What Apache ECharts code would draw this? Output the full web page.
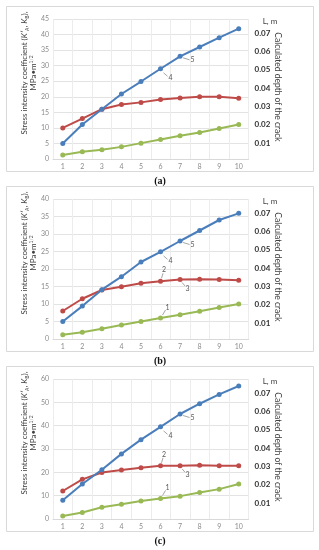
<!DOCTYPE html>
<html><head><meta charset="utf-8">
<script src="https://cdn.jsdelivr.net/npm/echarts@6/dist/echarts.min.js"></script>
<style>html,body{margin:0;padding:0;background:#fff}#c{width:319px;height:550px}</style>
</head><body><div id="c"></div>
<script>
// ---- data ----
var categories = ['1','2','3','4','5','6','7','8','9','10'];
// panel (a)
var a_blue  = [5, 11.1, 16, 20.9, 24.9, 29, 33, 36, 39, 41.9];
var a_red   = [10, 13, 16, 17.5, 18.2, 19.1, 19.6, 20, 20, 19.5];
var a_green = [1.3, 2.3, 3, 3.9, 5.1, 6.3, 7.5, 8.5, 9.8, 11.1];
// panel (b)
var b_blue  = [5, 9.4, 14.1, 17.8, 22, 24.9, 28, 31, 34, 35.9];
var b_red   = [8, 11.5, 14, 14.9, 15.9, 16.5, 17, 17.1, 17, 16.8];
var b_green = [1.2, 1.9, 2.9, 4, 5, 6, 6.9, 7.9, 9, 10];
// panel (c)
var c_blue  = [8, 15, 21.1, 27.9, 34, 39.5, 45, 49.4, 53.4, 57];
var c_red   = [12, 17, 19.9, 21, 22, 22.8, 22.8, 23, 22.8, 22.8];
var c_green = [1.3, 2.8, 5, 6.3, 7.7, 8.8, 9.8, 11.4, 12.8, 15];
// left axis ranges
var leftMax = [45, 40, 60];
var leftInterval = [5, 5, 10];
// right axis (crack depth, m)
var rightMax = 0.08, rightInterval = 0.01;
var captions = ['(a)', '(b)', '(c)'];
// curve labels: [panel, curve(0 blue,1 red,2 green), category index, text]
var curveLabels = [
  [0, 0, 6, '5'], [0, 0, 5, '4'],
  [1, 0, 6, '5'], [1, 0, 5, '4'], [1, 1, 5, '2'], [1, 1, 6, '3'], [1, 2, 5, '1'],
  [2, 0, 6, '5'], [2, 0, 5, '4'], [2, 1, 5, '2'], [2, 1, 6, '3'], [2, 2, 5, '1']
];

// ---- styles / layout ----
var panels = [[a_blue, a_red, a_green], [b_blue, b_red, b_green], [c_blue, c_red, c_green]];
var colors = ['#4A7EBB', '#BE4B48', '#98B954'];
var FONT = 'Lato, "Open Sans", sans-serif';
var offs = [0, 180, 360];
// label geometry by text: [leader start dx,dy, leader end dx,dy, text dx,dy]
var labelGeo = {
  '5': [3, 1.5, 9.5, 3.5, 12.5, 3.5],
  '4': [3, 4, 7, 7.5, 10, 8.5],
  '2': [1, -3, 2.5, -8, 3.5, -11.5],
  '3': [2, 3, 5, 6.5, 7.5, 9],
  '1': [2, -3, 5, -8, 7, -10.5]
};

var grids = [], xAxes = [], yAxes = [], series = [], graphics = [];
for (var p = 0; p < 3; p++) {
  var oy = offs[p];
  grids.push({left: 53, right: 70.5, top: oy + 19, height: 140});
  grids.push({left: 53, right: 70.5, top: oy + 14.7, height: 146.6});
  xAxes.push({
    type: 'category', gridIndex: 2 * p, data: categories, boundaryGap: true,
    axisLine: {lineStyle: {color: '#d9d9d9'}}, axisTick: {show: false},
    axisLabel: {color: '#8c8c8c', fontSize: 7, fontFamily: FONT, margin: 4, interval: 0},
    splitLine: {show: true, lineStyle: {color: '#ececec', width: 1}}
  });
  xAxes.push({type: 'category', gridIndex: 2 * p + 1, data: categories, show: false});
  yAxes.push({
    type: 'value', gridIndex: 2 * p, min: 0, max: leftMax[p], interval: leftInterval[p],
    axisLine: {show: false}, axisTick: {show: false},
    axisLabel: {color: '#8c8c8c', fontSize: 7, fontFamily: FONT, margin: 4},
    splitLine: {lineStyle: {color: '#e3e3e3', width: 1}}
  });
  yAxes.push({
    type: 'value', gridIndex: 2 * p + 1, position: 'right', min: 0, max: rightMax, interval: rightInterval,
    axisLine: {show: false}, axisTick: {show: false}, splitLine: {show: false},
    axisLabel: {color: '#333', fontSize: 8, fontFamily: FONT, fontWeight: 'bold', margin: 6,
      formatter: function (v) { return (v > 0.005 && v < 0.075) ? v.toFixed(2) : ''; }}
  });
  var names = ['blue', 'red', 'green'];
  for (var k = 0; k < 3; k++) {
    series.push({
      type: 'line', name: names[k] + p, xAxisIndex: 2 * p, yAxisIndex: 2 * p,
      data: panels[p][k], symbol: 'circle', symbolSize: 5, showSymbol: true,
      lineStyle: {color: colors[k], width: 2}, itemStyle: {color: colors[k]},
      animation: false, z: 3 + (k === 0 ? 1 : 0)
    });
  }
  // frame box
  graphics.push({type: 'rect', shape: {x: 6.5, y: oy + 6.5, width: 307, height: 165},
    style: {fill: 'none', stroke: '#d9d9d9', lineWidth: 1}, silent: true});
  // left axis title
  graphics.push({type: 'text', x: 29, y: oy + 73, rotation: Math.PI / 2,
    style: {
      text: '{t|Stress intensity coefficient (}{i|K′}{s|A}{t|, }{i|K}{s|B}{t|),}\n{t|MPa•m}{p|1/2}',
      align: 'center', verticalAlign: 'middle', fill: '#404040', lineHeight: 9,
      rich: {
        t: {fontSize: 8, fontFamily: FONT, fill: '#404040', lineHeight: 9},
        i: {fontSize: 8, fontFamily: FONT, fontStyle: 'italic', fill: '#404040', lineHeight: 9},
        s: {fontSize: 5, fontFamily: FONT, fill: '#404040', padding: [5, 0, 0, 0], lineHeight: 9},
        p: {fontSize: 5, fontFamily: FONT, fill: '#404040', padding: [0, 0, 4, 0], lineHeight: 9}
      }
    }, silent: true});
  // right axis title
  graphics.push({type: 'text', x: 278, y: oy + 87, rotation: -Math.PI / 2,
    style: {text: 'Calculated depth of the crack', fontSize: 8.5, fontFamily: FONT, fill: '#404040',
      align: 'center', verticalAlign: 'middle'}, silent: true});
  graphics.push({type: 'text', x: 270, y: oy + 21,
    style: {text: 'L, m', fontSize: 8, fontFamily: FONT, fill: '#404040', align: 'center', verticalAlign: 'middle'}, silent: true});
  // caption
  graphics.push({type: 'text', x: 160, y: oy + 181,
    style: {text: captions[p], fontSize: 10, fontWeight: 'bold', fontFamily: '"Liberation Serif", serif', fill: '#111',
      align: 'center', verticalAlign: 'middle'}, silent: true});
}

var chart = echarts.init(document.getElementById('c'), null, {renderer: 'canvas'});
var option = {
  animation: false, backgroundColor: '#fff',
  grid: grids, xAxis: xAxes, yAxis: yAxes, series: series, graphic: graphics
};
chart.setOption(option);

// curve labels anchored to data points via the library's coordinate conversion
var extra = graphics.slice();
curveLabels.forEach(function (cl) {
  var p = cl[0], k = cl[1], idx = cl[2], txt = cl[3];
  var pt = chart.convertToPixel({seriesIndex: p * 3 + k}, [idx, panels[p][k][idx]]);
  var g = labelGeo[txt];
  extra.push({type: 'line', shape: {x1: pt[0] + g[0], y1: pt[1] + g[1], x2: pt[0] + g[2], y2: pt[1] + g[3]},
    style: {stroke: '#a6a6a6', lineWidth: 1}, silent: true, z: 10});
  extra.push({type: 'text', x: pt[0] + g[4], y: pt[1] + g[5],
    style: {text: txt, fontSize: 7, fontFamily: FONT, fill: '#595959', align: 'center', verticalAlign: 'middle'},
    silent: true, z: 10});
});
chart.setOption({graphic: extra}, {replaceMerge: ['graphic']});
</script>
</body></html>
